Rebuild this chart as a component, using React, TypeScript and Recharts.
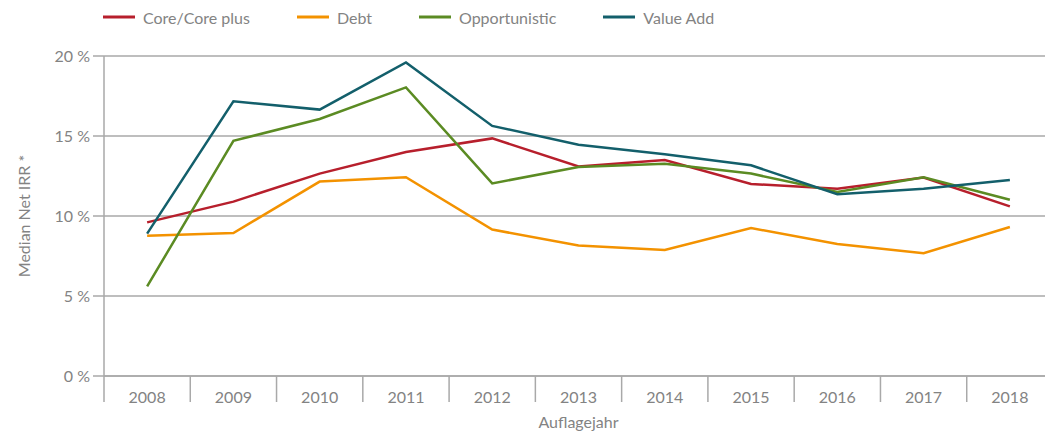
import React from 'react';
import { CartesianGrid, Legend, Line, LineChart, XAxis, YAxis } from 'recharts';

const years = ['2008', '2009', '2010', '2011', '2012', '2013', '2014', '2015', '2016', '2017', '2018'];

const corePlus = [9.6, 10.9, 12.65, 14.0, 14.85, 13.1, 13.5, 12.0, 11.7, 12.4, 10.6];
const debt = [8.77, 8.94, 12.15, 12.42, 9.15, 8.15, 7.88, 9.25, 8.25, 7.67, 9.31];
const opportunistic = [5.6, 14.7, 16.06, 18.04, 12.04, 13.06, 13.27, 12.65, 11.5, 12.42, 11.02];
const valueAdd = [8.9, 17.17, 16.65, 19.6, 15.63, 14.46, 13.86, 13.17, 11.36, 11.71, 12.25];

const yTicks = [0, 5, 10, 15, 20];

const series = [
  { key: 'core', name: 'Core/Core plus', color: '#b71f2c' },
  { key: 'debt', name: 'Debt', color: '#f39200' },
  { key: 'opp', name: 'Opportunistic', color: '#5b8b23' },
  { key: 'va', name: 'Value Add', color: '#135f6b' },
];

const data = years.map((year, i) => ({
  year,
  core: corePlus[i],
  debt: debt[i],
  opp: opportunistic[i],
  va: valueAdd[i],
}));

const FONT = 'Lato, sans-serif';
const TEXT = '#838383';
const GRID = '#a9a9a9';

const renderLegend = () => (
  <div style={{ display: 'flex', alignItems: 'center', height: 34, paddingLeft: 103, fontFamily: FONT }}>
    {series.map(s => (
      <div key={s.key} style={{ display: 'flex', alignItems: 'center', marginRight: 47 }}>
        <svg width={32} height={6} style={{ marginRight: 8 }}>
          <line x1={0} y1={3} x2={32} y2={3} stroke={s.color} strokeWidth={3} />
        </svg>
        <span style={{ fontSize: 16, color: TEXT }}>{s.name}</span>
      </div>
    ))}
  </div>
);

// year label in the middle of its band, separator line on the left edge of the band
const YearTick = (props: any) => {
  const { x, y, payload } = props;
  const half = payload && payload.offset ? payload.offset : 0;
  return (
    <g>
      <line x1={x - half} y1={y} x2={x - half} y2={y + 26} stroke={GRID} strokeWidth={1.5} />
      <text x={x} y={y + 27} textAnchor="middle" fill={TEXT} fontSize={16} fontFamily={FONT}>
        {payload.value}
      </text>
    </g>
  );
};

export default function App() {
  return (
    <div style={{ position: 'absolute', left: 0, top: 0, width: 1045, height: 435, overflow: 'hidden', background: '#fff' }}>
      <LineChart width={1060} height={435} data={data} margin={{ top: 22, right: 7, bottom: 0, left: 0 }}>
        <CartesianGrid horizontal vertical={false} stroke={GRID} strokeWidth={1.5} />
        <XAxis
          dataKey="year"
          scale="band"
          height={59}
          axisLine={{ stroke: GRID, strokeWidth: 1.5 }}
          tickLine={false}
          tickSize={0}
          tickMargin={0}
          tick={<YearTick />}
          interval={0}
          label={{ value: 'Auflagejahr', position: 'insideBottom', offset: 7, fill: TEXT, fontSize: 16, fontFamily: FONT }}
        />
        <YAxis
          width={104}
          domain={[0, 20]}
          ticks={yTicks}
          tickFormatter={v => `${v} %`}
          axisLine={{ stroke: GRID, strokeWidth: 1.5 }}
          tickLine={{ stroke: GRID, strokeWidth: 1.5 }}
          tickSize={11}
          tickMargin={3}
          tick={{ fill: TEXT, fontSize: 16, fontFamily: FONT }}
          label={{ value: 'Median Net IRR *', angle: -90, position: 'insideLeft', offset: 24, style: { textAnchor: 'middle' }, fill: TEXT, fontSize: 16, fontFamily: FONT }}
        />
        <Legend
          verticalAlign="top"
          height={34}
          content={renderLegend}
          wrapperStyle={{ position: 'absolute', top: 0, left: 0, width: 1045 }}
        />
        {series.map(s => (
          <Line
            key={s.key}
            dataKey={s.key}
            name={s.name}
            stroke={s.color}
            strokeWidth={2.5}
            dot={false}
            activeDot={false}
            isAnimationActive={false}
          />
        ))}
      </LineChart>
    </div>
  );
}
